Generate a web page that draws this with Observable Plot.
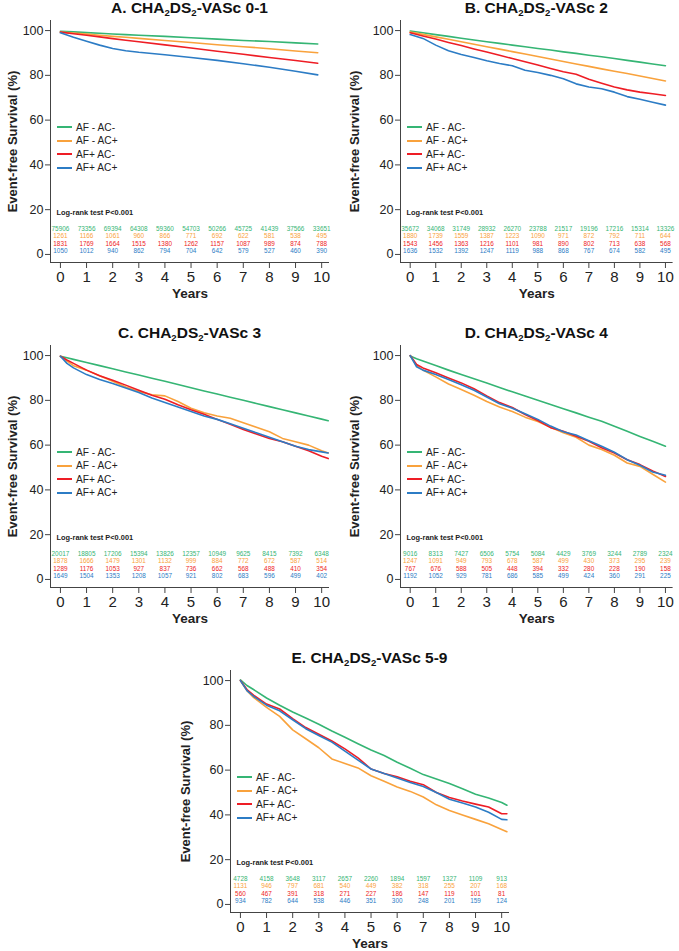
<!DOCTYPE html>
<html><head><meta charset="utf-8">
<script src="https://cdn.jsdelivr.net/npm/d3@7"></script>
<script src="https://cdn.jsdelivr.net/npm/@observablehq/plot@0.6"></script>
<style>
body{margin:0;background:#fff;font-family:"Liberation Sans",Arial,sans-serif;}
#root{position:relative;width:679px;height:951px;overflow:hidden;background:#fff;}
.panel{position:absolute;}
.title{position:absolute;font-weight:bold;font-size:15.5px;line-height:18px;color:#111;white-space:nowrap;transform:translateX(-50%);}
.title sub{font-size:0.62em;vertical-align:-0.35em;line-height:0}
.legend{position:absolute;font-size:10.2px;color:#222;}
.legend div{height:13.5px;display:flex;align-items:center;white-space:nowrap}
.legend span.sw{display:inline-block;width:15px;height:2px;margin-right:4px}
</style></head><body><div id="root"></div><script>
const SERIES = ["AF - AC-", "AF - AC+", "AF+ AC-", "AF+ AC+"];
const COLORS = ["#35b574", "#f9a23c", "#ee1d25", "#2c7cc5"];
const YEARS = [0,1,2,3,4,5,6,7,8,9,10];
const Y_TICKS = [0,20,40,60,80,100];
const X_DOMAIN = [-0.38, 10.3];
const Y_DOMAIN = [-3.6, 104.5];
const LOGRANK = "Log-rank test P<0.001";
const X_LABEL = "Years";
const Y_LABEL = "Event-free Survival (%)";

// Panel A: CHA2DS2-VASc 0-1
const A_T = [0,0.5,1,1.5,2,2.5,3,4,5,6,7,8,9,9.85];
const A_GREEN  = [99.7,99.4,99.1,98.8,98.5,98.2,97.9,97.4,96.8,96.2,95.6,95.1,94.5,94.0];
const A_ORANGE = [99.3,98.9,98.4,97.9,97.4,97.0,96.5,95.6,94.7,93.7,92.8,91.9,90.9,90.1];
const A_RED    = [99.3,98.6,97.9,97.2,96.4,95.7,95.0,93.6,92.2,90.8,89.4,88.0,86.6,85.4];
const A_BLUE   = [99.0,97.0,95.2,93.5,92.0,91.0,90.3,89.2,88.0,86.7,85.2,83.6,81.8,80.2];
const A_RISK_GREEN  = [75906,73356,69394,64308,59360,54703,50266,45725,41439,37566,33651];
const A_RISK_ORANGE = [1261,1166,1061,960,866,771,692,622,581,538,495];
const A_RISK_RED    = [1831,1769,1664,1515,1380,1262,1157,1087,989,874,788];
const A_RISK_BLUE   = [1050,1012,940,862,794,704,642,579,527,460,390];

// Panel B: CHA2DS2-VASc 2
const B_T = [0,0.5,1,1.5,2,2.5,3,3.5,4,4.5,5,5.5,6,6.5,7,7.5,8,8.5,9,9.5,10];
const B_GREEN  = [99.8,99.0,98.2,97.4,96.6,95.8,95.0,94.3,93.5,92.8,92.0,91.3,90.5,89.8,89.0,88.3,87.5,86.7,85.9,85.1,84.3];
const B_ORANGE = [99.3,98.3,97.2,96.1,95.0,93.9,92.8,91.7,90.6,89.5,88.4,87.3,86.2,85.1,84.0,82.9,81.8,80.8,79.7,78.6,77.5];
const B_RED    = [99.0,97.6,96.2,94.7,93.3,91.8,90.4,89.0,87.5,86.1,84.6,83.1,81.6,80.5,78.3,76.5,74.8,73.5,72.5,71.8,71.0];
const B_BLUE   = [98.2,96.5,93.5,91.0,89.3,88.0,86.5,85.3,84.3,82.3,81.3,80.0,78.5,76.2,74.8,74.0,72.5,70.5,69.3,68.0,66.7];
const B_RISK_GREEN  = [35672,34068,31749,28932,26270,23788,21517,19196,17216,15314,13326];
const B_RISK_ORANGE = [1880,1739,1559,1387,1223,1090,971,872,792,711,644];
const B_RISK_RED    = [1543,1456,1363,1216,1101,981,890,802,713,638,568];
const B_RISK_BLUE   = [1636,1532,1392,1247,1119,988,868,767,674,582,495];

// Panel C: CHA2DS2-VASc 3
const C_T = [0,0.25,0.5,1,1.5,2,2.5,3,3.5,4,4.5,5,5.5,6,6.5,7,7.5,8,8.5,9,9.5,10,10.25];
const C_GREEN  = [99.7,99.0,98.3,96.9,95.5,94.1,92.7,91.3,89.9,88.5,87.1,85.6,84.2,82.8,81.4,80.0,78.6,77.2,75.8,74.4,73.0,71.6,70.9];
const C_ORANGE = [99.7,97.5,95.5,93.5,91.0,88.5,86.0,84.0,82.5,82.0,79.5,76.5,74.5,73.0,72.0,70.0,68.0,66.0,63.0,61.5,60.0,57.5,56.5];
const C_RED    = [99.7,98.0,96.5,93.5,91.0,89.0,86.8,84.5,82.3,80.5,78.0,75.8,73.8,71.5,69.3,67.0,65.0,63.0,61.5,59.5,57.5,55.0,54.0];
const C_BLUE   = [99.7,96.5,94.5,91.5,89.3,87.5,85.5,83.5,81.0,79.0,77.0,75.0,73.0,71.5,69.5,67.5,65.5,63.5,61.5,59.5,58.0,57.0,56.5];
const C_RISK_GREEN  = [20017,18805,17206,15394,13826,12357,10949,9625,8415,7392,6348];
const C_RISK_ORANGE = [1878,1666,1479,1301,1132,999,884,772,672,587,514];
const C_RISK_RED    = [1289,1176,1053,927,837,736,662,568,488,410,354];
const C_RISK_BLUE   = [1649,1504,1353,1208,1057,921,802,683,596,499,402];

// Panel D: CHA2DS2-VASc 4
const D_T = [0,0.25,0.5,1,1.5,2,2.5,3,3.5,4,4.5,5,5.5,6,6.5,7,7.5,8,8.5,9,9.5,10];
const D_GREEN  = [99.8,98.6,97.6,95.6,93.5,91.5,89.6,87.7,85.7,83.8,81.9,80.0,78.1,76.2,74.4,72.5,70.7,68.4,66.2,63.9,61.7,59.5];
const D_ORANGE = [100,95.5,93.5,90.5,87.3,84.8,82.3,79.5,77.0,75.0,72.5,70.5,68.0,65.5,63.5,60.0,58.0,55.5,52.0,50.5,47.0,43.5];
const D_RED    = [100,96.0,94.5,92.3,90.0,87.8,85.2,82.0,79.0,76.8,73.7,71.0,67.8,66.2,64.0,61.7,58.8,56.5,53.5,51.3,48.5,46.0];
const D_BLUE   = [100,95.0,93.5,91.5,89.3,87.0,84.5,81.5,78.5,76.5,74.0,71.5,68.5,66.0,64.5,62.0,59.5,56.8,53.5,51.0,48.0,46.5];
const D_RISK_GREEN  = [9016,8313,7427,6506,5754,5084,4429,3769,3244,2789,2324];
const D_RISK_ORANGE = [1247,1091,949,793,678,587,499,430,373,295,239];
const D_RISK_RED    = [767,676,588,505,448,394,332,280,228,190,158];
const D_RISK_BLUE   = [1192,1052,929,781,686,585,499,424,360,291,225];

// Panel E: CHA2DS2-VASc 5-9
const E_T = [0,0.25,0.5,1,1.5,2,2.5,3,3.5,4,4.5,5,5.5,6,6.5,7,7.5,8,8.5,9,9.5,10,10.2];
const E_GREEN  = [100.3,97.8,96.0,92.2,89.0,86.0,83.3,80.5,77.5,74.7,71.8,69.0,66.5,63.5,60.8,58.0,56.0,54.0,51.7,49.2,47.5,45.5,44.3];
const E_ORANGE = [100,95.5,92.5,88.0,84.0,78.0,74.0,70.0,65.0,63.0,61.0,57.5,55.0,52.5,50.5,48.0,44.5,42.0,40.0,38.0,36.0,33.5,32.5];
const E_RED    = [100,96.0,93.5,89.5,87.3,83.0,79.0,76.0,73.0,69.5,65.5,60.5,58.5,57.0,55.0,53.5,50.0,47.8,46.2,44.8,43.5,40.5,40.5];
const E_BLUE   = [100,95.5,93.0,89.0,86.5,82.5,78.5,75.5,72.5,68.5,64.5,60.5,58.5,56.5,54.5,52.7,50.0,47.0,45.3,43.5,41.2,38.0,37.8];
const E_RISK_GREEN  = [4728,4158,3648,3117,2657,2260,1894,1597,1327,1109,913];
const E_RISK_ORANGE = [1131,946,797,681,540,449,382,318,255,207,168];
const E_RISK_RED    = [560,467,391,318,271,227,186,147,119,101,81];
const E_RISK_BLUE   = [934,782,644,538,446,351,300,248,201,159,124];

const PANELS = [
  {title: 'A. CHA<sub>2</sub>DS<sub>2</sub>-VASc 0-1', left: 0, top: 0, width: 340, mr: 11, ldx: -38,
   t: A_T, lines: [A_GREEN, A_ORANGE, A_RED, A_BLUE], risk: [A_RISK_GREEN, A_RISK_ORANGE, A_RISK_RED, A_RISK_BLUE]},
  {title: 'B. CHA<sub>2</sub>DS<sub>2</sub>-VASc 2', left: 350, top: 0, width: 329, mr: 6.4, ldx: -46,
   t: B_T, lines: [B_GREEN, B_ORANGE, B_RED, B_BLUE], risk: [B_RISK_GREEN, B_RISK_ORANGE, B_RISK_RED, B_RISK_BLUE]},
  {title: 'C. CHA<sub>2</sub>DS<sub>2</sub>-VASc 3', left: 0, top: 325, width: 340, mr: 11, ldx: -38,
   t: C_T, lines: [C_GREEN, C_ORANGE, C_RED, C_BLUE], risk: [C_RISK_GREEN, C_RISK_ORANGE, C_RISK_RED, C_RISK_BLUE]},
  {title: 'D. CHA<sub>2</sub>DS<sub>2</sub>-VASc 4', left: 350, top: 325, width: 329, mr: 6.4, ldx: -46,
   t: D_T, lines: [D_GREEN, D_ORANGE, D_RED, D_BLUE], risk: [D_RISK_GREEN, D_RISK_ORANGE, D_RISK_RED, D_RISK_BLUE]},
  {title: 'E. CHA<sub>2</sub>DS<sub>2</sub>-VASc 5-9', left: 180, top: 650, width: 340, mr: 11, ldx: -45,
   t: E_T, lines: [E_GREEN, E_ORANGE, E_RED, E_BLUE], risk: [E_RISK_GREEN, E_RISK_ORANGE, E_RISK_RED, E_RISK_BLUE]}
];

const ML = 50, MT = 2, MB = 46, H = 290, SVG_TOP = 18;
const root = document.getElementById("root");

for (const p of PANELS) {
  const rows = p.lines.flatMap((vals, i) => p.t.map((x, j) => ({x, y: vals[j], s: SERIES[i]})));
  const riskMarks = p.risk.map((arr, k) => Plot.text(YEARS, {
    x: d => d, text: (d, i) => String(arr[i]), frameAnchor: "bottom", textAnchor: "middle",
    dy: -32 + k * 7.6, fill: COLORS[k], fontSize: 6.4
  }));
  const chart = Plot.plot({
    width: p.width, height: H, marginLeft: ML, marginRight: p.mr, marginTop: MT, marginBottom: MB,
    x: {domain: X_DOMAIN, axis: null},
    y: {domain: Y_DOMAIN, axis: null},
    color: {domain: SERIES, range: COLORS},
    style: {fontFamily: '"Liberation Sans", Arial, sans-serif', background: "white", color: "#222", overflow: "visible"},
    marks: [
      Plot.ruleX([X_DOMAIN[0]], {stroke: "#444", strokeWidth: 1}),
      Plot.ruleY([Y_DOMAIN[0]], {stroke: "#444", strokeWidth: 1}),
      Plot.axisX({ticks: YEARS, tickSize: 6, tickPadding: 3, fontSize: 15, label: null, stroke: "#444"}),
      Plot.axisY({ticks: Y_TICKS, tickSize: 5, tickPadding: 2, fontSize: 12.5, label: null, stroke: "#444"}),
      Plot.line(rows, {x: "x", y: "y", z: "s", stroke: "s", strokeWidth: 1.6}),
      Plot.text([LOGRANK], {frameAnchor: "bottom-left", dx: 6, dy: -48, fontWeight: "bold", fontSize: 7.4, textAnchor: "start"}),
      ...riskMarks,
      Plot.text([X_LABEL], {frameAnchor: "bottom", textAnchor: "middle", dy: 35, fontWeight: "bold", fontSize: 13.5}),
      Plot.text([Y_LABEL], {frameAnchor: "left", textAnchor: "middle", dx: p.ldx, rotate: -90, fontWeight: "bold", fontSize: 13})
    ]
  });
  const div = document.createElement("div");
  div.className = "panel";
  div.style.left = p.left + "px";
  div.style.top = (p.top + SVG_TOP) + "px";
  div.appendChild(chart);
  root.appendChild(div);

  const frameW = p.width - ML - p.mr;
  const t = document.createElement("div");
  t.className = "title";
  t.innerHTML = p.title;
  t.style.left = (p.left + ML + frameW / 2) + "px";
  t.style.top = (p.top - 1) + "px";
  root.appendChild(t);

  const lg = document.createElement("div");
  lg.className = "legend";
  lg.style.left = (p.left + ML + 7) + "px";
  lg.style.top = (p.top + SVG_TOP + MT + 107 - 6.75) + "px";
  SERIES.forEach((s, i) => {
    const r = document.createElement("div");
    const sw = document.createElement("span");
    sw.className = "sw"; sw.style.background = COLORS[i];
    r.appendChild(sw);
    r.appendChild(document.createTextNode(s));
    lg.appendChild(r);
  });
  root.appendChild(lg);
}
</script></body></html>
